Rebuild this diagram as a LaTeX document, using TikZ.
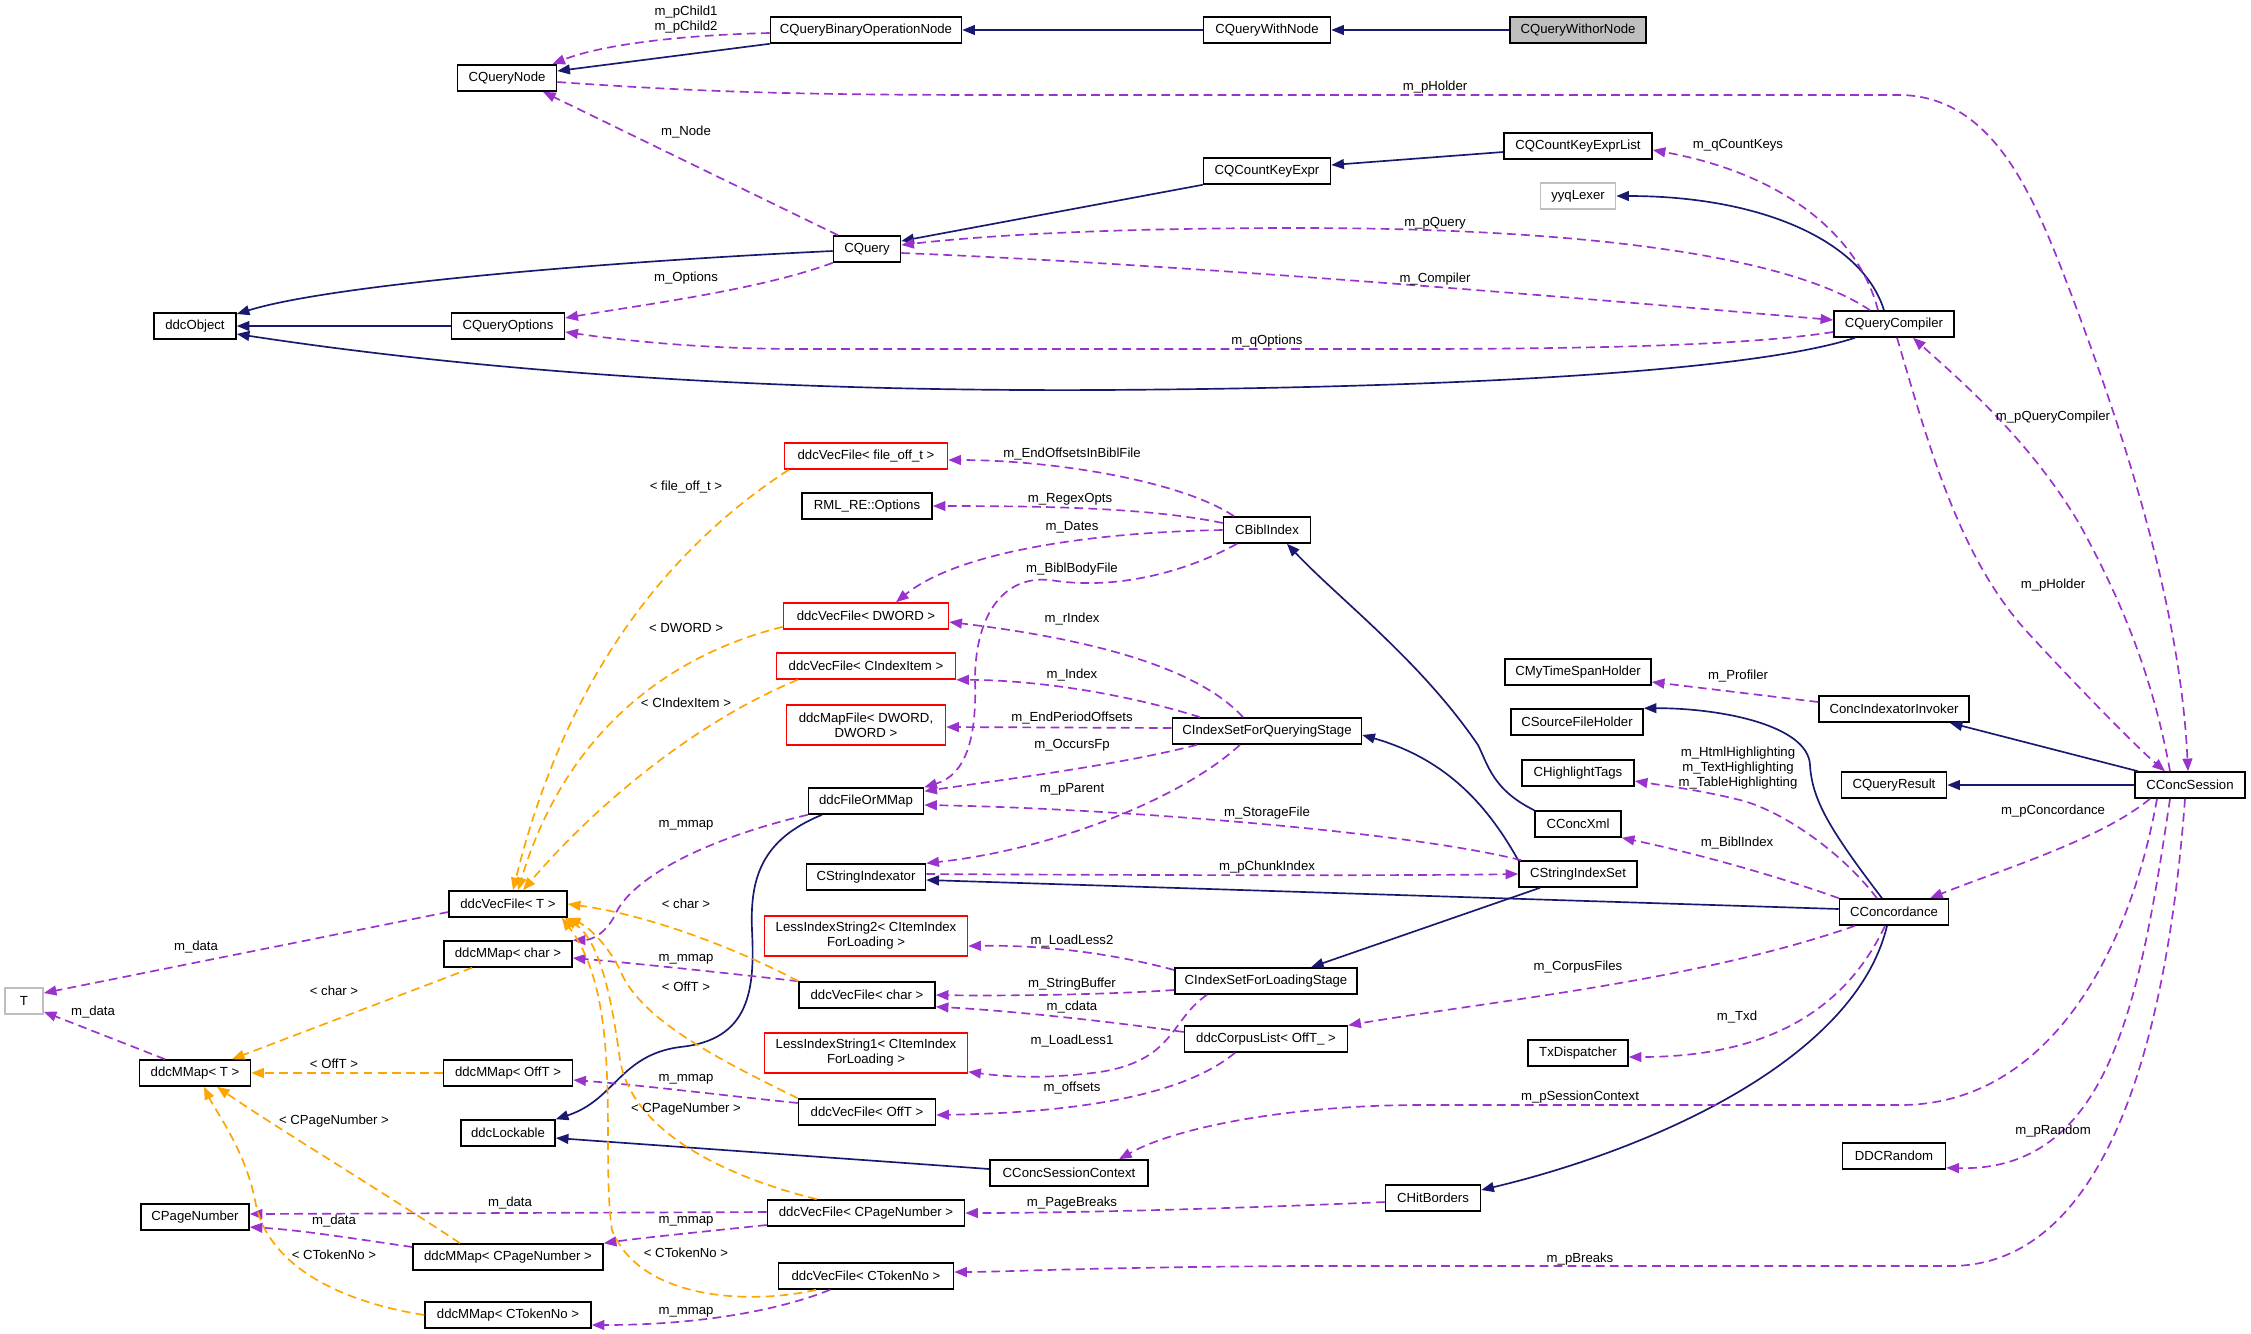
\documentclass[tikz,border=0pt]{standalone}
\usepackage{fontspec}
\setmainfont{Liberation Sans}
\usetikzlibrary{arrows.meta}
\definecolor{inhcol}{HTML}{191970}
\definecolor{usecol}{HTML}{9A32CD}
\definecolor{tplcol}{HTML}{FFA500}
\definecolor{boxgrey}{HTML}{BFBFBF}
\tikzset{
  cls/.style={draw=black, line width=0.9pt, fill=white, align=center, inner sep=1pt, minimum height=0.52cm, font=\fontsize{7.5}{8.6}\selectfont},
  clstwo/.style={minimum height=0.8cm},
  redcls/.style={cls, draw=red},
  extcls/.style={cls, draw=boxgrey},
  curcls/.style={cls, fill=boxgrey},
  inherit/.style={draw=inhcol, line width=0.95pt, -{Triangle[length=7.2pt,width=5.6pt]}},
  usage/.style={draw=usecol, line width=0.95pt, dash pattern=on 5pt off 3pt, -{Triangle[length=7.2pt,width=5.6pt]}},
  tmpl/.style={draw=tplcol, line width=0.95pt, dash pattern=on 5pt off 3pt, -{Triangle[length=7.2pt,width=5.6pt]}},
  elabel/.style={font=\fontsize{7.5}{8.6}\selectfont, align=center, inner sep=0pt}
}

\begin{document}
\begin{tikzpicture}[x=0.02cm, y=-0.02cm]
  \path[fill=white, use as bounding box] (0,0) rectangle (2251,1333);

  % query classes
  \node[curcls, minimum width=2.72cm] (qwithor) at (1578,30) {CQueryWithorNode};
  \node[cls, minimum width=2.54cm] (qwith) at (1267,30) {CQueryWithNode};
  \node[cls, minimum width=3.82cm] (qbin) at (866,30) {CQueryBinaryOperationNode};
  \node[cls, minimum width=1.98cm] (qnode) at (507,78) {CQueryNode};
  \node[cls, minimum width=2.96cm] (ckeylist) at (1578,146) {CQCountKeyExprList};
  \node[cls, minimum width=2.54cm] (ckey) at (1267,171) {CQCountKeyExpr};
  \node[extcls, minimum width=1.5cm] (lexer) at (1578,196) {yyqLexer};
  \node[cls, minimum width=1.34cm] (cquery) at (867,249) {CQuery};
  \node[cls, minimum width=2.26cm] (qopts) at (508,326) {CQueryOptions};
  \node[cls, minimum width=1.64cm] (ddcobj) at (195,326) {ddcObject};
  \node[cls, minimum width=2.4cm] (qcomp) at (1894,324) {CQueryCompiler};

  % index classes
  \node[redcls, minimum width=3.26cm] (vfoff) at (866,456) {ddcVecFile< file\_off\_t >};
  \node[cls, minimum width=2.6cm] (rmlopt) at (867,506) {RML\_RE::Options};
  \node[cls, minimum width=1.74cm] (bibl) at (1267,530) {CBiblIndex};
  \node[redcls, minimum width=3.3cm] (vfdword) at (866,616) {ddcVecFile< DWORD >};
  \node[redcls, minimum width=3.58cm] (vfitem) at (866,666) {ddcVecFile< CIndexItem >};
  \node[redcls, clstwo, minimum width=3.18cm] (mfdword) at (866,725) {ddcMapFile< DWORD,\\DWORD >};
  \node[cls, minimum width=3.78cm] (iqs) at (1267,731) {CIndexSetForQueryingStage};
  \node[cls, minimum width=2.3cm] (fomm) at (866,801) {ddcFileOrMMap};
  \node[cls, minimum width=2.38cm] (strix) at (866,877) {CStringIndexator};
  \node[cls, minimum width=2.36cm] (strset) at (1578,874) {CStringIndexSet};
  \node[cls, minimum width=1.72cm] (concxml) at (1578,824) {CConcXml};
  \node[cls, minimum width=2.24cm] (hltags) at (1578,773) {CHighlightTags};
  \node[cls, minimum width=2.64cm] (srcfh) at (1577,722) {CSourceFileHolder};
  \node[cls, minimum width=2.92cm] (timesp) at (1578,672) {CMyTimeSpanHolder};
  \node[cls, minimum width=3cm] (invoker) at (1894,709) {ConcIndexatorInvoker};
  \node[cls, minimum width=2.1cm] (qresult) at (1894,785) {CQueryResult};
  \node[cls, minimum width=2.2cm] (session) at (2190,785) {CConcSession};
  \node[cls, minimum width=2.18cm] (concord) at (1894,912) {CConcordance};

  % file and map classes
  \node[cls, minimum width=2.36cm] (vft) at (508,904) {ddcVecFile< T >};
  \node[cls, minimum width=2.56cm] (mmchar) at (508,954) {ddcMMap< char >};
  \node[extcls, minimum width=0.76cm] (tnode) at (24,1001) {T};
  \node[cls, minimum width=2.22cm] (mmt) at (195,1073) {ddcMMap< T >};
  \node[cls, minimum width=2.58cm] (mmofft) at (508,1073) {ddcMMap< OffT >};
  \node[cls, minimum width=1.88cm] (lockable) at (508,1133) {ddcLockable};
  \node[cls, minimum width=2.16cm] (pagenum) at (195,1217) {CPageNumber};
  \node[cls, minimum width=3.8cm] (mmpage) at (508,1257) {ddcMMap< CPageNumber >};
  \node[cls, minimum width=3.32cm] (mmtok) at (508,1315) {ddcMMap< CTokenNo >};
  \node[redcls, clstwo, minimum width=4.06cm] (less2) at (866,936) {LessIndexString2< CItemIndex\\ForLoading >};
  \node[cls, minimum width=2.72cm] (vfchar) at (867,995) {ddcVecFile< char >};
  \node[redcls, clstwo, minimum width=4.06cm] (less1) at (866,1053) {LessIndexString1< CItemIndex\\ForLoading >};
  \node[cls, minimum width=2.74cm] (vfofft) at (867,1112) {ddcVecFile< OffT >};
  \node[cls, minimum width=3.94cm] (vfpage) at (866,1213) {ddcVecFile< CPageNumber >};
  \node[cls, minimum width=3.5cm] (vftok) at (866,1276) {ddcVecFile< CTokenNo >};
  \node[cls, minimum width=3.16cm] (sessctx) at (1069,1173) {CConcSessionContext};
  \node[cls, minimum width=3.64cm] (ils) at (1266,981) {CIndexSetForLoadingStage};
  \node[cls, minimum width=3.26cm] (corpus) at (1266,1039) {ddcCorpusList< OffT\_ >};
  \node[cls, minimum width=2cm] (txd) at (1578,1053) {TxDispatcher};
  \node[cls, minimum width=1.9cm] (hitb) at (1433,1198) {CHitBorders};
  \node[cls, minimum width=2.06cm] (rnd) at (1894,1156) {DDCRandom};

  % inheritance
  \draw[inherit] (qwithor) -- (qwith);
  \draw[inherit] (qwith) -- (qbin);
  \draw[inherit] (qbin.south west) -- ([shift={(0,-7)}]qnode.east);
  \draw[inherit] ([shift={(0,6)}]ckeylist.west) -- ([shift={(0,-6)}]ckey.east);
  \draw[inherit] (ckey.south west) -- ([shift={(0,-8)}]cquery.east);
  \draw[inherit] ([shift={(0,2)}]cquery.west) .. controls (600,262) and (330,285) .. ([shift={(0,-12)}]ddcobj.east);
  \draw[inherit] (qopts) -- (ddcobj);
  \draw[inherit] ([shift={(-39,0)}]qcomp.south) .. controls (1750,372) and (1450,388) .. (1100,390) .. controls (700,392) and (420,362) .. ([shift={(0,8)}]ddcobj.east);
  \draw[inherit] ([shift={(-10,0)}]qcomp.north) .. controls (1862,240) and (1760,196) .. (lexer.east);
  \draw[inherit] ([shift={(0,-3)}]concord.west) -- ([shift={(0,3)}]strix.east);
  \draw[inherit] (strset.north west) .. controls (1490,810) and (1450,760) .. ([shift={(0,4)}]iqs.east);
  \draw[inherit] (concxml.north west) .. controls (1493,790) and (1488,765) .. (1478,745) .. controls (1420,660) and (1340,600) .. ([shift={(20,0)}]bibl.south);
  \draw[inherit] ([shift={(-38,0)}]strset.south) -- ([shift={(45,0)}]ils.north);
  \draw[inherit] ([shift={(-12,0)}]concord.north) .. controls (1830,830) and (1812,800) .. (1810,765) .. controls (1808,725) and (1720,708) .. (srcfh.north east);
  \draw[inherit] ([shift={(-7,0)}]concord.south) .. controls (1855,1060) and (1650,1150) .. ([shift={(0,-8)}]hitb.east);
  \draw[inherit] ([shift={(-52,0)}]session.north) -- ([shift={(-20,0)}]invoker.south east);
  \draw[inherit] (session) -- (qresult);
  \draw[inherit] ([shift={(-44,0)}]fomm.south) .. controls (760,840) and (750,880) .. (752,930) .. controls (755,990) and (750,1040) .. (680,1047) .. controls (620,1055) and (615,1100) .. (lockable.north east);
  \draw[inherit] ([shift={(0,-4)}]sessctx.west) -- ([shift={(0,5)}]lockable.east);

  % members
  \draw[usage] ([shift={(0,3)}]qbin.west) .. controls (680,35) and (600,45) .. ([shift={(-5,0)}]qnode.north east);
  \draw[usage] ([shift={(0,4)}]qnode.east) .. controls (700,92) and (800,95) .. (1000,95) -- (1900,95) .. controls (1990,96) and (2030,190) .. (2060,265) .. controls (2120,420) and (2180,600) .. ([shift={(-2,0)}]session.north);
  \draw[usage] ([shift={(-29,0)}]cquery.north) -- ([shift={(36,0)}]qnode.south);
  \draw[usage] (cquery.south west) .. controls (760,290) and (640,305) .. ([shift={(0,-8)}]qopts.east);
  \draw[usage] ([shift={(-24,0)}]qcomp.north) .. controls (1780,250) and (1550,228) .. (1300,228) .. controls (1100,228) and (980,236) .. ([shift={(0,-4)}]cquery.east);
  \draw[usage] ([shift={(0,4)}]cquery.east) .. controls (1200,265) and (1600,300) .. ([shift={(0,-4)}]qcomp.west);
  \draw[usage] ([shift={(0,8)}]qcomp.west) .. controls (1750,345) and (1600,349) .. (1400,349) -- (800,349) .. controls (700,349) and (620,340) .. ([shift={(0,6)}]qopts.east);
  \draw[usage] ([shift={(-16,0)}]qcomp.north) .. controls (1860,240) and (1790,175) .. ([shift={(0,4)}]ckeylist.east);
  \draw[usage] ([shift={(3,0)}]qcomp.south) .. controls (1930,450) and (1960,560) .. (2030,635) .. controls (2090,700) and (2140,750) .. ([shift={(-25,0)}]session.north);
  \draw[usage] ([shift={(-20,0)}]session.north) .. controls (2150,660) and (2110,580) .. (2080,525) .. controls (2030,440) and (1960,380) .. ([shift={(19,0)}]qcomp.south);
  \draw[usage] ([shift={(-33,0)}]bibl.north) .. controls (1180,480) and (1050,460) .. ([shift={(0,4)}]vfoff.east);
  \draw[usage] ([shift={(0,-7)}]bibl.west) .. controls (1150,508) and (1050,506) .. (rmlopt.east);
  \draw[usage] (bibl.west) .. controls (1100,532) and (960,550) .. ([shift={(30,0)}]vfdword.north);
  \draw[usage] ([shift={(-30,0)}]bibl.south) .. controls (1180,575) and (1110,590) .. (1050,580) .. controls (1000,575) and (975,620) .. (975,680) .. controls (977,740) and (965,775) .. (fomm.north east);
  \draw[usage] ([shift={(-24,0)}]iqs.north) .. controls (1200,670) and (1100,640) .. ([shift={(0,6)}]vfdword.east);
  \draw[usage] ([shift={(-67,0)}]iqs.north) .. controls (1130,695) and (1040,680) .. (vfitem.south east);
  \draw[usage] ([shift={(0,-3)}]iqs.west) -- ([shift={(0,2)}]mfdword.east);
  \draw[usage] ([shift={(-70,0)}]iqs.south) .. controls (1120,765) and (1000,780) .. ([shift={(0,4)}]fomm.north east);
  \draw[usage] ([shift={(-27,0)}]iqs.south) .. controls (1180,800) and (1050,850) .. (strix.north east);
  \draw[usage] ([shift={(3,0)}]strset.north west) .. controls (1400,830) and (1100,808) .. ([shift={(0,4)}]fomm.east);
  \draw[usage] ([shift={(0,-3)}]strix.east) .. controls (1100,875) and (1400,876) .. (strset.west);
  \draw[usage] (concord.north west) .. controls (1760,870) and (1680,850) .. (concxml.south east);
  \draw[usage] ([shift={(-17,0)}]concord.north) .. controls (1840,850) and (1780,810) .. (1740,800) .. controls (1700,790) and (1660,785) .. ([shift={(0,8)}]hltags.east);
  \draw[usage] ([shift={(0,-7)}]invoker.west) -- ([shift={(0,10)}]timesp.east);
  \draw[usage] ([shift={(-40,0)}]session.south) .. controls (2100,840) and (2000,870) .. ([shift={(36,0)}]concord.north);
  \draw[usage] ([shift={(-39,0)}]concord.south) .. controls (1700,980) and (1500,1000) .. (corpus.north east);
  \draw[usage] ([shift={(-9,0)}]concord.south) .. controls (1850,1000) and (1780,1057) .. ([shift={(0,4)}]txd.east);
  \draw[usage] ([shift={(-33,0)}]session.south) .. controls (2130,950) and (2050,1105) .. (1900,1105) -- (1420,1105) .. controls (1300,1105) and (1180,1125) .. ([shift={(50,0)}]sessctx.north);
  \draw[usage] ([shift={(-20,0)}]session.south) .. controls (2140,1000) and (2110,1172) .. ([shift={(0,-2)}]rnd.south east);
  \draw[usage] ([shift={(-5,0)}]session.south) .. controls (2170,1000) and (2120,1266) .. (1950,1266) -- (1300,1266) .. controls (1100,1267) and (1000,1272) .. ([shift={(0,-4)}]vftok.east);
  \draw[usage] ([shift={(0,4)}]hitb.west) .. controls (1200,1210) and (1050,1213) .. (vfpage.east);
  \draw[usage] ([shift={(0,-11)}]ils.west) .. controls (1100,950) and (1030,945) .. ([shift={(0,10)}]less2.east);
  \draw[usage] ([shift={(0,9)}]ils.west) .. controls (1100,995) and (1000,996) .. (vfchar.east);
  \draw[usage] ([shift={(0,-7)}]corpus.west) .. controls (1100,1020) and (1000,1010) .. ([shift={(0,-2)}]vfchar.south east);
  \draw[usage] ([shift={(-59,0)}]ils.south) .. controls (1170,1020) and (1175,1060) .. (1100,1072) .. controls (1040,1080) and (1000,1076) .. ([shift={(0,-2)}]less1.south east);
  \draw[usage] ([shift={(-31,0)}]corpus.south) .. controls (1190,1090) and (1100,1112) .. ([shift={(0,3)}]vfofft.east);
  \draw[usage] (fomm.south west) .. controls (700,840) and (630,880) .. (615,915) .. controls (605,935) and (590,940) .. (mmchar.north east);
  \draw[usage] (vfchar.north west) .. controls (700,970) and (620,962) .. ([shift={(0,4)}]mmchar.east);
  \draw[usage] ([shift={(0,8)}]vft.west) -- ([shift={(0,-8)}]tnode.east);
  \draw[usage] ([shift={(-30,0)}]mmt.north) -- ([shift={(0,-3)}]tnode.south east);
  \draw[usage] ([shift={(0,-9)}]vfofft.west) .. controls (720,1095) and (640,1085) .. ([shift={(0,7)}]mmofft.east);
  \draw[usage] ([shift={(0,-1)}]vfpage.west) -- ([shift={(0,-3)}]pagenum.east);
  \draw[usage] ([shift={(0,12)}]vfpage.west) .. controls (700,1232) and (640,1238) .. (mmpage.north east);
  \draw[usage] ([shift={(0,-10)}]mmpage.west) .. controls (350,1238) and (300,1230) .. ([shift={(0,10)}]pagenum.east);
  \draw[usage] ([shift={(-36,0)}]vftok.south) .. controls (780,1310) and (700,1325) .. ([shift={(0,10)}]mmtok.east);

  % template instances
  \draw[tmpl] ([shift={(5,0)}]vfoff.south west) .. controls (650,560) and (560,700) .. ([shift={(5,0)}]vft.north);
  \draw[tmpl] ([shift={(0,-3)}]vfdword.south west) .. controls (650,660) and (560,750) .. ([shift={(10,0)}]vft.north);
  \draw[tmpl] ([shift={(22,0)}]vfitem.south west) .. controls (700,720) and (600,800) .. ([shift={(15,0)}]vft.north);
  \draw[tmpl] (vfchar.north west) .. controls (740,950) and (650,915) .. (vft.east);
  \draw[tmpl] (vfofft.north west) .. controls (720,1060) and (640,1020) .. (620,970) .. controls (605,940) and (585,925) .. (vft.south east);
  \draw[tmpl] ([shift={(50,0)}]vfpage.north west) .. controls (700,1170) and (630,1120) .. (620,1060) .. controls (612,1000) and (600,940) .. ([shift={(-3,0)}]vft.south east);
  \draw[tmpl] ([shift={(-50,0)}]vftok.south) .. controls (750,1305) and (640,1300) .. (612,1230) .. controls (600,1150) and (625,1000) .. ([shift={(-6,0)}]vft.south east);
  \draw[tmpl] ([shift={(-36,0)}]mmchar.south) -- ([shift={(37,0)}]mmt.north);
  \draw[tmpl] (mmofft.west) -- (mmt.east);
  \draw[tmpl] ([shift={(-48,0)}]mmpage.north) .. controls (380,1190) and (280,1130) .. ([shift={(22,0)}]mmt.south);
  \draw[tmpl] (mmtok.west) .. controls (330,1300) and (265,1260) .. (255,1200) .. controls (245,1150) and (215,1110) .. ([shift={(9,0)}]mmt.south);

  % labels
  \node[elabel] (lChild) at (686,20) {m\_pChild1\\m\_pChild2};
  \node[elabel] (lHolderA) at (1435,87) {m\_pHolder};
  \node[elabel] (lNode) at (686,132) {m\_Node};
  \node[elabel] (lOptions) at (686,278) {m\_Options};
  \node[elabel] (lPQuery) at (1435,223) {m\_pQuery};
  \node[elabel] (lCompiler) at (1435,279) {m\_Compiler};
  \node[elabel] (lQOptions) at (1267,341) {m\_qOptions};
  \node[elabel] (lCountKeys) at (1738,145) {m\_qCountKeys};
  \node[elabel] (lQComp) at (2053,417) {m\_pQueryCompiler};
  \node[elabel] (lHolderB) at (2053,585) {m\_pHolder};
  \node[elabel] (lEndOff) at (1072,454) {m\_EndOffsetsInBiblFile};
  \node[elabel] (lRegex) at (1070,499) {m\_RegexOpts};
  \node[elabel] (lDates) at (1072,527) {m\_Dates};
  \node[elabel] (lBody) at (1072,569) {m\_BiblBodyFile};
  \node[elabel] (lRIndex) at (1072,619) {m\_rIndex};
  \node[elabel] (lIndex) at (1072,675) {m\_Index};
  \node[elabel] (lEndPer) at (1072,718) {m\_EndPeriodOffsets};
  \node[elabel] (lOccurs) at (1072,745) {m\_OccursFp};
  \node[elabel] (lParent) at (1072,789) {m\_pParent};
  \node[elabel] (lStorage) at (1267,813) {m\_StorageFile};
  \node[elabel] (lChunk) at (1267,867) {m\_pChunkIndex};
  \node[elabel] (lBibl) at (1737,843) {m\_BiblIndex};
  \node[elabel] (lHigh) at (1738,768) {m\_HtmlHighlighting\\m\_TextHighlighting\\m\_TableHighlighting};
  \node[elabel] (lProfiler) at (1738,676) {m\_Profiler};
  \node[elabel] (lConc) at (2053,811) {m\_pConcordance};
  \node[elabel] (lCorpus) at (1578,967) {m\_CorpusFiles};
  \node[elabel] (lTxd) at (1737,1017) {m\_Txd};
  \node[elabel] (lSessCtx) at (1580,1097) {m\_pSessionContext};
  \node[elabel] (lRandom) at (2053,1131) {m\_pRandom};
  \node[elabel] (lPageBr) at (1072,1203) {m\_PageBreaks};
  \node[elabel] (lBreaks) at (1580,1259) {m\_pBreaks};
  \node[elabel] (lLess2) at (1072,941) {m\_LoadLess2};
  \node[elabel] (lStrBuf) at (1072,984) {m\_StringBuffer};
  \node[elabel] (lCdata) at (1072,1007) {m\_cdata};
  \node[elabel] (lLess1) at (1072,1041) {m\_LoadLess1};
  \node[elabel] (lOffsets) at (1072,1088) {m\_offsets};
  \node[elabel] (lMmapA) at (686,825) {m\_mmap};
  \node[elabel] (lMmapB) at (686,959) {m\_mmap};
  \node[elabel] (lDataA) at (196,947) {m\_data};
  \node[elabel] (lDataB) at (93,1012) {m\_data};
  \node[elabel] (lMmapC) at (686,1079) {m\_mmap};
  \node[elabel] (lDataC) at (510,1203) {m\_data};
  \node[elabel] (lMmapD) at (686,1221) {m\_mmap};
  \node[elabel] (lDataD) at (334,1221) {m\_data};
  \node[elabel] (lMmapE) at (686,1312) {m\_mmap};
  \node[elabel] (tFileOff) at (686,487) {< file\_off\_t >};
  \node[elabel] (tDword) at (686,628) {< DWORD >};
  \node[elabel] (tItem) at (686,703) {< CIndexItem >};
  \node[elabel] (tCharA) at (686,904) {< char >};
  \node[elabel] (tOffTA) at (686,987) {< OffT >};
  \node[elabel] (tPageA) at (686,1109) {< CPageNumber >};
  \node[elabel] (tTokA) at (686,1253) {< CTokenNo >};
  \node[elabel] (tCharB) at (334,991) {< char >};
  \node[elabel] (tOffTB) at (334,1064) {< OffT >};
  \node[elabel] (tPageB) at (334,1121) {< CPageNumber >};
  \node[elabel] (tTokB) at (334,1255) {< CTokenNo >};
\end{tikzpicture}
\end{document}
